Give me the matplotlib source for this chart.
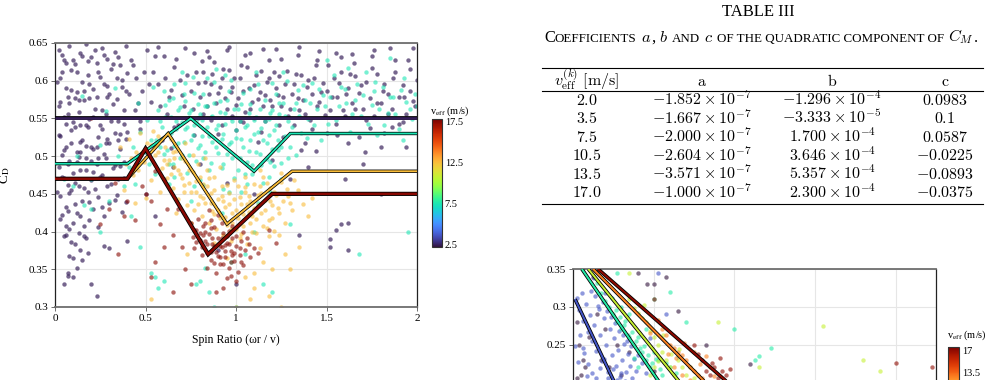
import matplotlib
matplotlib.use('Agg')
import matplotlib.pyplot as plt
import matplotlib.patheffects as pe
import matplotlib.ticker as mticker
from matplotlib.colors import Normalize
from matplotlib.cm import ScalarMappable
from matplotlib.lines import Line2D
import numpy as np

plt.rcParams['font.family'] = ['Liberation Serif', 'DejaVu Serif']
plt.rcParams['mathtext.fontset'] = 'stix'

# --- Data ---
# points are (x * 100, y * 1000), i.e. hundredths of spin ratio / of x, thousandths of C_D

# left plot: C_D vs spin ratio, points grouped by effective wind speed
cd_speeds = [2.5, 7.5, 12.5, 17.5]

pts_2_5 = [
    (2, 641), (5, 628), (8, 646), (11, 622), (14, 637), (17, 649), (20, 631), (23, 624), (26, 643), (29, 629),
    (33, 638), (36, 621), (39, 646), (4, 612), (3, 603), (6, 591), (9, 614), (12, 585), (15, 598), (18, 607),
    (21, 589), (24, 612), (27, 596), (30, 583), (34, 604), (37, 592), (40, 610), (7, 579), (19, 577), (31, 615),
    (2, 566), (5, 552), (8, 571), (10, 545), (13, 558), (16, 574), (19, 549), (22, 563), (25, 541), (28, 556),
    (32, 569), (35, 547), (38, 561), (6, 543), (14, 541), (29, 578), (11, 577), (3, 527), (6, 512), (9, 534),
    (12, 505), (15, 521), (18, 538), (21, 509), (24, 526), (27, 503), (30, 517), (33, 531), (36, 510), (39, 523),
    (4, 502), (17, 514), (26, 536), (2, 486), (5, 471), (8, 493), (11, 464), (14, 482), (17, 497), (20, 468),
    (23, 489), (26, 475), (29, 461), (32, 484), (35, 470), (38, 492), (7, 462), (13, 499), (21, 479), (3, 447),
    (6, 433), (9, 455), (12, 425), (15, 441), (18, 452), (21, 430), (24, 446), (27, 421), (30, 438), (34, 449),
    (37, 426), (4, 422), (10, 412), (8, 404), (13, 398), (6, 408), (5, 330), (7, 345), (10, 340), (12, 352),
    (20, 331), (23, 315), (15, 362), (18, 371), (8, 368), (9, 386), (30, 378), (40, 387), (17, 392), (14, 376),
    (11, 383), (6, 395), (16, 407), (19, 415), (7, 341),
    (42, 628), (45, 604), (48, 587), (51, 641), (54, 612), (57, 595), (60, 633), (63, 578), (66, 618), (69, 601),
    (72, 644), (75, 586), (78, 612), (44, 561), (53, 572), (62, 556), (71, 566), (79, 551), (47, 536), (59, 521),
    (68, 541), (77, 528), (50, 506), (64, 511), (81, 626), (83, 598), (85, 583), (87, 609), (89, 571), (91, 592),
    (93, 616), (95, 563), (97, 585), (99, 603), (101, 577), (103, 621), (105, 558), (107, 591), (109, 572),
    (111, 608), (113, 585), (115, 566), (117, 598), (119, 574), (82, 556), (86, 548), (92, 541), (98, 553),
    (104, 545), (110, 551), (116, 547), (84, 639), (96, 645), (108, 637), (118, 628), (90, 529), (100, 535),
    (114, 532), (121, 612), (123, 581), (125, 567), (127, 596), (129, 553), (131, 583), (133, 609), (135, 561),
    (137, 574), (139, 592), (141, 548), (143, 603), (145, 566), (147, 585), (149, 555), (151, 621), (153, 578),
    (155, 543), (157, 597), (159, 561), (122, 642), (134, 634), (146, 639), (158, 631), (126, 525), (138, 518),
    (150, 531), (144, 507), (132, 541), (161, 583), (163, 609), (166, 562), (169, 594), (172, 548), (175, 617),
    (178, 571), (181, 587), (184, 556), (187, 603), (190, 542), (193, 578), (196, 615), (199, 566), (164, 635),
    (176, 641), (188, 628), (198, 644), (168, 525), (182, 531), (194, 512), (171, 505), (186, 538),
    (135, 395), (152, 390), (155, 402), (158, 410), (162, 412), (152, 380), (162, 375), (90, 375), (100, 330),
    (60, 470), (50, 450), (55, 420), (110, 450), (130, 470), (160, 470), (180, 450), (80, 490), (140, 485),
    (170, 490), (120, 495), (95, 465), (65, 485),
    (1, 598), (3, 572), (4, 634), (6, 624), (7, 556), (9, 588), (10, 627), (11, 538), (12, 611), (13, 574),
    (14, 519), (15, 633), (16, 587), (17, 541), (18, 626), (19, 596), (20, 512), (21, 552), (22, 641), (23, 578),
    (24, 497), (25, 605), (26, 561), (27, 634), (28, 518), (29, 593), (31, 547), (32, 622), (33, 488), (34, 576),
    (35, 632), (36, 529), (37, 601), (38, 543), (39, 586), (40, 532), (2, 528), (4, 473), (5, 508), (7, 489),
    (8, 451), (9, 518), (10, 478), (11, 437), (12, 492), (13, 461), (14, 506), (16, 458), (17, 481), (19, 439),
    (20, 493), (22, 457), (23, 512), (25, 472), (26, 433), (28, 497), (29, 523), (31, 463), (33, 442), (35, 521),
    (36, 487), (38, 471), (39, 439), (1, 452), (3, 417), (5, 394), (7, 427), (10, 365), (14, 421), (16, 394),
    (24, 406), (27, 381),
    (41, 583), (43, 621), (46, 571), (49, 612), (52, 595), (55, 633), (58, 566), (61, 604), (64, 588), (67, 629),
    (70, 581), (73, 607), (76, 563), (79, 597), (80, 578), (82, 612), (84, 567), (86, 596), (88, 625), (90, 584),
    (92, 603), (94, 577), (96, 614), (98, 592), (100, 568), (102, 604), (104, 587), (106, 618), (108, 563),
    (110, 594), (112, 576), (114, 613), (116, 581), (118, 603), (120, 567), (122, 591), (124, 606), (126, 579),
    (128, 613), (130, 562), (132, 596), (134, 577), (136, 608), (138, 556), (140, 601), (142, 583), (144, 621),
    (146, 572), (148, 597), (150, 586), (152, 561), (154, 604), (156, 579), (158, 612), (160, 553), (162, 591),
    (164, 571), (166, 606), (168, 584), (170, 562), (172, 598), (174, 577), (176, 553), (178, 609), (180, 571),
    (182, 596), (184, 583), (186, 562), (188, 611), (190, 578), (192, 594), (194, 556), (196, 586), (198, 573),
    (200, 601), (85, 631), (95, 641), (105, 634), (115, 642), (125, 629), (135, 645), (145, 628), (155, 637),
    (165, 624), (175, 633), (185, 644), (195, 627), (57, 645), (77, 637), (47, 547), (66, 538), (74, 551),
    (102, 546), (124, 541), (142, 536), (156, 528), (174, 537), (192, 545), (112, 519), (136, 508), (162, 518),
    (180, 512),
]
pts_7_5 = [
    (41, 486), (43, 512), (45, 497), (47, 532), (49, 505), (51, 548), (53, 521), (55, 476), (57, 561), (59, 538),
    (44, 463), (52, 489), (58, 512), (46, 571), (54, 592), (61, 552), (62, 508), (63, 574), (64, 531), (65, 489),
    (66, 596), (67, 547), (68, 518), (69, 565), (70, 502), (71, 583), (72, 536), (73, 478), (74, 557), (75, 521),
    (76, 605), (77, 541), (78, 494), (79, 569), (80, 515), (63, 463), (70, 612), (77, 461), (81, 548), (82, 583),
    (83, 506), (84, 566), (85, 527), (86, 491), (87, 553), (88, 598), (89, 512), (90, 541), (91, 573), (92, 484),
    (93, 529), (94, 557), (95, 503), (96, 587), (97, 519), (98, 546), (99, 471), (100, 535), (82, 462), (89, 615),
    (96, 452), (94, 608), (101, 562), (102, 498), (103, 523), (104, 584), (105, 476), (106, 541), (107, 507),
    (108, 569), (109, 488), (110, 529), (111, 552), (112, 596), (113, 503), (114, 537), (115, 465), (116, 575),
    (117, 518), (118, 549), (119, 492), (120, 561), (103, 452), (111, 611), (118, 473), (121, 534), (122, 582),
    (123, 508), (124, 556), (125, 491), (126, 571), (127, 527), (128, 599), (129, 546), (130, 512), (132, 563),
    (134, 588), (136, 531), (138, 574), (140, 549), (126, 612), (133, 502), (142, 597), (145, 562), (148, 581),
    (151, 543), (154, 607), (157, 566), (160, 589), (163, 532), (166, 574), (169, 553), (172, 611), (175, 568),
    (178, 528), (181, 592), (184, 557), (187, 578), (190, 536), (193, 603), (196, 562), (199, 583), (147, 522),
    (162, 617), (177, 598), (192, 521), (150, 628), (185, 630), (5, 470), (10, 460), (20, 470), (30, 440),
    (35, 500), (15, 580), (28, 560), (38, 460), (16, 435), (12, 500), (25, 515), (33, 590), (20, 430), (25, 400),
    (47, 380), (53, 345), (55, 340), (60, 335), (57, 325), (78, 330), (80, 335), (85, 320), (88, 300), (97, 360),
    (105, 370), (110, 400), (115, 330), (120, 320), (168, 370), (195, 400), (42, 420), (100, 300), (75, 440),
    (92, 425), (112, 438), (83, 352), (130, 410),
    (56, 522), (58, 547), (60, 503), (61, 568), (62, 529), (63, 489), (64, 552), (65, 577), (66, 514), (67, 536),
    (68, 561), (69, 497), (70, 545), (71, 519), (72, 573), (73, 538), (74, 502), (75, 561), (76, 528), (77, 584),
    (78, 547), (79, 511), (80, 556), (81, 527), (82, 498), (83, 567), (84, 538), (85, 482), (86, 552), (87, 519),
    (88, 571), (89, 536), (90, 504), (91, 558), (92, 523), (93, 489), (94, 542), (95, 574), (96, 516), (97, 551),
    (98, 498), (99, 563), (100, 524), (101, 481), (102, 547), (103, 569), (104, 512), (105, 538), (106, 492),
    (107, 557), (108, 521), (109, 476), (110, 548), (111, 506), (112, 532), (113, 563), (114, 488), (115, 521),
    (116, 547), (117, 496), (118, 528), (119, 557), (120, 509), (121, 487), (122, 541), (123, 521), (124, 571),
    (125, 512), (127, 553), (129, 498), (131, 538), (133, 571), (135, 553), (137, 594), (139, 524), (141, 571),
    (143, 541), (146, 589), (149, 566), (152, 579), (155, 548), (158, 592), (161, 571), (164, 556), (167, 596),
    (170, 581), (173, 543), (176, 587), (179, 562), (182, 541), (185, 579), (188, 556), (191, 588), (194, 572),
    (197, 549), (200, 566), (60, 586), (72, 597), (84, 604), (97, 601), (108, 589), (120, 597), (66, 472),
    (80, 468), (93, 457), (106, 463), (119, 452), (125, 470),
]
pts_12_5 = [
    (36, 512), (39, 489), (41, 523), (43, 475), (45, 506), (47, 531), (49, 492), (51, 518), (53, 468), (55, 501),
    (57, 527), (59, 484), (38, 455), (50, 445), (58, 452), (44, 438), (61, 512), (62, 471), (63, 495), (64, 523),
    (65, 458), (66, 486), (67, 507), (68, 443), (69, 476), (70, 498), (71, 462), (72, 517), (73, 435), (74, 481),
    (75, 452), (76, 502), (77, 428), (78, 467), (79, 489), (80, 447), (81, 421), (82, 463), (83, 438), (84, 482),
    (85, 412), (86, 451), (87, 427), (88, 472), (89, 403), (90, 443), (91, 418), (92, 461), (93, 396), (94, 432),
    (95, 409), (96, 451), (97, 387), (98, 425), (99, 443), (100, 404), (83, 497), (91, 485), (99, 468), (101, 418),
    (102, 392), (103, 437), (104, 408), (105, 452), (106, 383), (107, 426), (108, 441), (109, 399), (110, 463),
    (111, 417), (112, 435), (113, 378), (114, 451), (115, 407), (116, 428), (117, 465), (118, 394), (119, 441),
    (120, 418), (105, 472), (113, 482), (119, 458), (121, 452), (123, 431), (125, 466), (127, 412), (129, 447),
    (131, 428), (134, 455), (137, 437), (140, 421), (124, 395), (132, 468), (115, 360), (120, 350), (105, 340),
    (108, 310), (110, 325), (127, 370), (130, 350), (100, 300), (110, 345), (53, 310), (73, 370), (125, 300),
    (118, 315), (135, 380), (95, 365), (88, 385), (142, 445), (75, 412), (67, 425),
    (60, 495), (62, 489), (64, 476), (66, 498), (68, 482), (70, 471), (72, 493), (74, 465), (76, 479), (78, 452),
    (80, 472), (82, 445), (84, 461), (86, 438), (88, 455), (90, 428), (92, 447), (94, 419), (96, 436), (98, 411),
    (100, 429), (102, 446), (104, 423), (106, 437), (108, 412), (110, 431), (112, 449), (114, 424), (116, 442),
    (118, 416), (120, 435), (122, 448), (124, 424), (126, 441), (128, 456), (130, 438), (85, 471), (95, 462),
    (105, 459), (115, 473), (125, 478), (88, 423), (97, 403), (103, 397), (109, 421), (111, 398), (117, 405),
    (93, 441), (101, 461), (107, 447), (113, 461), (121, 401), (79, 437), (71, 452), (65, 505), (57, 505),
    (53, 515), (48, 505), (46, 482), (42, 497), (54, 533),
]
pts_17_5 = [
    (75, 411), (76, 393), (77, 402), (78, 386), (79, 417), (80, 398), (81, 379), (82, 408), (83, 388), (84, 371),
    (85, 397), (86, 362), (87, 384), (88, 406), (89, 373), (90, 391), (91, 357), (92, 379), (93, 398), (94, 366),
    (95, 385), (96, 352), (97, 374), (98, 392), (99, 361), (100, 381), (101, 347), (102, 369), (103, 387),
    (104, 356), (105, 375), (86, 415), (92, 412), (98, 408), (89, 345), (95, 338), (100, 335), (84, 352),
    (106, 392), (108, 366), (110, 378), (112, 371), (93, 325), (89, 320), (91, 366), (87, 392), (94, 382),
    (97, 359), (83, 399), (96, 401), (50, 450), (53, 440), (48, 460), (38, 420), (45, 490), (55, 480), (30, 430),
    (35, 370), (25, 410), (58, 410), (68, 430), (55, 360), (53, 340), (65, 320), (72, 350), (75, 330), (60, 380),
    (62, 430), (65, 395), (70, 380), (40, 440), (20, 550), (118, 402), (122, 385), (33, 465), (44, 415),
    (78, 402), (80, 389), (82, 395), (84, 383), (86, 405), (88, 381), (90, 368), (92, 391), (94, 374), (96, 383),
    (98, 369), (100, 394), (102, 378), (104, 399), (86, 373), (91, 381), (95, 394), (99, 372), (93, 357),
    (97, 341), (88, 358), (83, 412), (81, 369), (103, 359), (107, 384), (77, 378), (85, 428), (90, 422),
]
cd_points = [pts_2_5, pts_7_5, pts_12_5, pts_17_5]

# piecewise-linear C_D fits, one per speed
fit_x_2_5 = [0, 2]
fit_y_2_5 = [0.55, 0.55]
fit_x_7_5 = [0, 0.40, 0.75, 1.10, 1.30, 2]
fit_y_7_5 = [0.49, 0.49, 0.55, 0.48, 0.53, 0.53]
fit_x_12_5 = [0, 0.40, 0.625, 0.95, 1.31, 2]
fit_y_12_5 = [0.47, 0.47, 0.53, 0.41, 0.48, 0.48]
fit_x_17_5 = [0, 0.40, 0.50, 0.846, 1.20, 2]
fit_y_17_5 = [0.47, 0.47, 0.51, 0.37, 0.45, 0.45]
cd_fits = [(fit_x_2_5, fit_y_2_5), (fit_x_7_5, fit_y_7_5), (fit_x_12_5, fit_y_12_5), (fit_x_17_5, fit_y_17_5)]

# table III
tab_speed = ['2.0', '3.5', '7.5', '10.5', '13.5', '17.0']
tab_a = [(-1.852, -7), (-1.667, -7), (-2.000, -7), (-2.604, -7), (-3.571, -7), (-1.000, -7)]
tab_b = [(-1.296, -4), (-3.333, -5), (1.700, -4), (3.646, -4), (5.357, -4), (2.300, -4)]
tab_c = ['0.0983', '0.1', '0.0587', '-0.0225', '-0.0893', '-0.0375']

# lower-right plot (only its top part is on the page)
low_speeds = [2.0, 3.5, 7.5, 10.5, 13.5, 17.0]
low_2_0 = [(5, 280), (8, 250), (12, 230), (10, 210), (15, 220), (20, 260), (30, 290), (35, 230), (45, 220),
           (55, 250), (60, 210), (80, 345), (92, 330), (100, 330), (115, 340), (100, 215), (70, 240), (65, 200),
           (5, 205), (40, 270), (220, 224), (130, 295), (165, 250), (25, 340)]
low_3_5 = [(5, 312), (8, 296), (11, 318), (13, 281), (16, 303), (18, 267), (21, 289), (23, 254), (26, 276),
           (28, 242), (31, 301), (33, 263), (36, 228), (38, 285), (41, 249), (43, 214), (46, 271), (48, 236),
           (51, 258), (53, 221), (56, 243), (58, 207), (61, 229), (63, 251), (66, 214), (68, 238), (71, 222),
           (73, 205), (76, 231), (78, 215), (14, 239), (19, 224), (24, 212), (29, 205), (34, 219), (39, 231),
           (44, 206), (49, 217), (54, 203), (59, 212), (64, 202), (9, 262), (12, 245), (22, 321), (27, 314),
           (32, 297), (37, 306), (42, 294), (47, 286), (52, 279), (57, 268), (62, 262), (67, 255), (72, 248),
           (81, 236), (85, 226), (90, 212), (95, 258), (105, 345), (115, 290), (6, 227), (17, 208), (3, 248),
           (26, 338), (40, 318)]
low_7_5 = [(30, 331), (35, 318), (40, 307), (45, 300), (48, 312), (50, 290), (53, 296), (55, 280), (58, 286),
           (60, 270), (63, 276), (65, 281), (68, 262), (70, 260), (73, 266), (75, 250), (78, 255), (80, 260),
           (83, 245), (85, 240), (88, 248), (90, 230), (93, 236), (95, 220), (98, 226), (100, 240), (103, 231),
           (105, 230), (108, 218), (110, 210), (115, 225), (120, 220), (60, 300), (70, 290), (100, 310),
           (120, 320), (140, 280), (200, 270), (230, 235), (245, 245), (225, 230), (90, 270), (80, 220),
           (130, 235), (55, 345), (128, 212), (75, 232)]
low_10_5 = [(70, 310), (75, 298), (80, 292), (85, 285), (90, 280), (95, 268), (100, 260), (105, 250), (110, 240),
            (115, 230), (120, 220), (125, 210), (130, 230), (135, 220), (140, 210), (100, 220), (95, 210),
            (145, 220), (180, 280), (230, 220), (310, 275), (360, 230), (380, 215), (70, 345), (150, 205),
            (112, 262), (122, 238), (132, 244), (105, 228), (88, 302)]
low_13_5 = [(110, 270), (115, 262), (120, 250), (125, 246), (130, 240), (135, 236), (140, 230), (145, 220),
            (150, 215), (155, 210), (160, 205), (135, 210), (170, 220), (125, 220), (165, 235), (150, 240),
            (95, 265), (105, 282), (138, 252), (158, 224), (145, 203), (128, 232), (118, 238), (175, 208)]
low_17_0 = [(100, 310), (150, 250), (160, 230), (170, 210), (175, 220), (180, 205), (185, 215), (190, 210),
            (200, 200), (400, 225), (445, 220), (165, 215), (155, 238), (172, 226), (195, 218), (182, 232)]
low_points = [low_2_0, low_3_5, low_7_5, low_10_5, low_13_5, low_17_0]

# straight fits in the lower plot: (x_start, y_start, x_end, y_end)
low_fit_speeds = [3.5, 7.5, 10.5, 13.5, 17.0]
low_fits = [(0.025, 0.31, 0.735, 0.15), (0.11, 0.35, 1.39, 0.15), (0.19, 0.35, 1.70, 0.15),
            (0.25, 0.35, 2.10, 0.15), (0.31, 0.35, 2.45, 0.15)]

# --- Layout helpers (pixel positions on the 998x380 page) ---
W, H = 998, 380


def fx(px):
    return px / W


def fy(py):
    return 1 - py / H


def g_fmt(v, pos):
    return f'{v:g}'


cmap = plt.get_cmap('turbo')
fig = plt.figure(figsize=(W / 100, H / 100), dpi=100)
renderer = fig.canvas.get_renderer()


def style_axes(ax):
    for side in ['left', 'right']:
        ax.spines[side].set_color('#222222')
        ax.spines[side].set_linewidth(0.9)
    for side in ['top', 'bottom']:
        ax.spines[side].set_color('#6e6e6e')
        ax.spines[side].set_linewidth(1.3)
    ax.grid(True, color='#e6e6e6', linewidth=0.8)
    ax.set_axisbelow(True)
    ax.tick_params(labelsize=8, length=3, width=0.6, color='#555555', pad=2)
    ax.xaxis.set_major_formatter(mticker.FuncFormatter(g_fmt))
    ax.yaxis.set_major_formatter(mticker.FuncFormatter(g_fmt))


def outlined(ax, x, y, color, lw, olw):
    ax.plot(x, y, color=color, lw=lw, solid_joinstyle='miter', solid_capstyle='butt', zorder=4,
            path_effects=[pe.Stroke(linewidth=olw, foreground='black'), pe.Normal()])


def scatter_group(ax, pts, color, alpha=0.6):
    p = np.array(pts, dtype=float)
    ax.scatter(p[:, 0] / 100, p[:, 1] / 1000, color=color, s=10, alpha=alpha, linewidths=0, zorder=2)


# --- Left plot ---
ax = fig.add_axes([fx(55), fy(307), (417 - 55) / W, (307 - 43) / H])
norm1 = Normalize(vmin=2.2, vmax=17.8)
for v, pts in zip(cd_speeds, cd_points):
    scatter_group(ax, pts, cmap(norm1(v)), alpha=0.68 if v < 5 else 0.6)

fit_widths = [(1.9, 2.7), (1.3, 2.4), (1.3, 2.4), (1.8, 3.0)]
for v, (xs, ys), (lw, olw) in zip(cd_speeds, cd_fits, fit_widths):
    outlined(ax, xs, ys, cmap(norm1(v)), lw, olw)

ax.set_xlim(0, 2)
ax.set_ylim(0.3, 0.65)
ax.set_xticks([0, 0.5, 1, 1.5, 2])
ax.set_yticks(np.arange(0.30, 0.651, 0.05))
style_axes(ax)
ax.set_xlabel('Spin Ratio (ωr / v)', fontsize=8.5, labelpad=8)
ax.set_ylabel('C$_\\mathrm{D}$', fontsize=9.5)
ax.yaxis.set_label_coords(-0.118, 0.5)

cax1 = fig.add_axes([fx(432), fy(247), 10 / W, 128 / H])
cb1 = fig.colorbar(ScalarMappable(norm=norm1, cmap=cmap), cax=cax1)
cb1.set_ticks([2.5, 7.5, 12.5, 17.5])
cb1.ax.yaxis.set_major_formatter(mticker.FuncFormatter(g_fmt))
cb1.ax.tick_params(labelsize=7.5, length=0, pad=2)
cb1.outline.set_edgecolor('#333333')
cb1.outline.set_linewidth(0.8)
fig.text(fx(430), fy(114), 'v$_\\mathrm{eff}$ (m/s)', fontsize=7.5, ha='left', va='baseline')

# --- Table III ---
fig.text(fx(758), fy(16.5), 'TABLE III', fontsize=12, ha='center', va='baseline')

caption = [('C', 11.8, 0), ('OEFFICIENTS', 9.4, 4), ('$a$', 11.8, 0), (',', 11.8, 4),
           ('$b$', 11.8, 4), ('AND', 9.4, 4), ('$c$', 11.8, 4),
           ('OF THE QUADRATIC COMPONENT OF', 9.4, 4), ('$C_M$', 11.8, 0), ('.', 11.8, 0)]
placed = []
cursor = 0.0
for s, size, gap in caption:
    t = fig.text(0, fy(41.5), s, fontsize=size, ha='left', va='baseline', math_fontfamily='cm')
    placed.append((t, cursor))
    cursor += t.get_window_extent(renderer).width + gap
start = 761 - cursor / 2
for t, off in placed:
    t.set_x(fx(start + off))

col_x = [587, 702, 832, 945]
for yy in [67.5, 90.5, 204]:
    fig.add_artist(Line2D([fx(542), fx(983)], [fy(yy), fy(yy)], color='black', lw=0.8))

tab_kw = dict(fontsize=11.5, ha='center', va='baseline', math_fontfamily='cm')
header = ['$v_{\\mathrm{eff}}^{(k)}\\ \\mathrm{[m/s]}$', '$\\mathrm{a}$', '$\\mathrm{b}$', '$\\mathrm{c}$']
for cx, h in zip(col_x, header):
    fig.text(fx(cx), fy(85.5), h, **tab_kw)


def sci(m, e):
    return f'${m:.3f} \\times 10^{{{e}}}$'


for i in range(len(tab_speed)):
    yb = 105 + i * 18.45
    row = [f'${tab_speed[i]}$', sci(*tab_a[i]), sci(*tab_b[i]), f'${tab_c[i]}$']
    for cx, s in zip(col_x, row):
        fig.text(fx(cx), fy(yb), s, **tab_kw)

# --- Lower-right plot (cut by the page edge) ---
ax2 = fig.add_axes([fx(573), fy(420), (936 - 573) / W, (420 - 269) / H])
norm2 = Normalize(vmin=2.0, vmax=17.4)
for v, pts in zip(low_speeds, low_points):
    scatter_group(ax2, pts, cmap(norm2(v)))
for v, (x0, y0, x1, y1) in zip(low_fit_speeds, low_fits):
    outlined(ax2, [x0, x1], [y0, y1], cmap(norm2(v)), 1.4, 2.6)
ax2.set_xlim(0, 4.5)
ax2.set_ylim(0.15, 0.35)
ax2.set_xticks([0, 1, 2, 3, 4])
ax2.set_yticks([0.2, 0.25, 0.3, 0.35])
style_axes(ax2)
# the x tick labels and the 0.2 label sit below the page edge
ax2.tick_params(axis='x', labelbottom=False)
ax2.set_yticklabels(['', '0.25', '0.3', '0.35'])

# colour bar of the lower plot, slightly compressed so the 13.5 label stays on the page
cax2 = fig.add_axes([fx(948), fy(466), 11 / W, 119 / H])
norm2_bar = Normalize(vmin=-1.4, vmax=17.5)
cb2 = fig.colorbar(ScalarMappable(norm=norm2_bar, cmap=cmap), cax=cax2)
cb2.set_ticks([13.5, 17])
cb2.ax.yaxis.set_major_formatter(mticker.FuncFormatter(g_fmt))
cb2.ax.tick_params(labelsize=7.5, length=0, pad=2)
cb2.outline.set_edgecolor('#333333')
cb2.outline.set_linewidth(0.8)
fig.text(fx(947), fy(338), 'v$_\\mathrm{eff}$ (m/s)', fontsize=7.5, ha='left', va='baseline')

fig.savefig('out.png', dpi=100)
